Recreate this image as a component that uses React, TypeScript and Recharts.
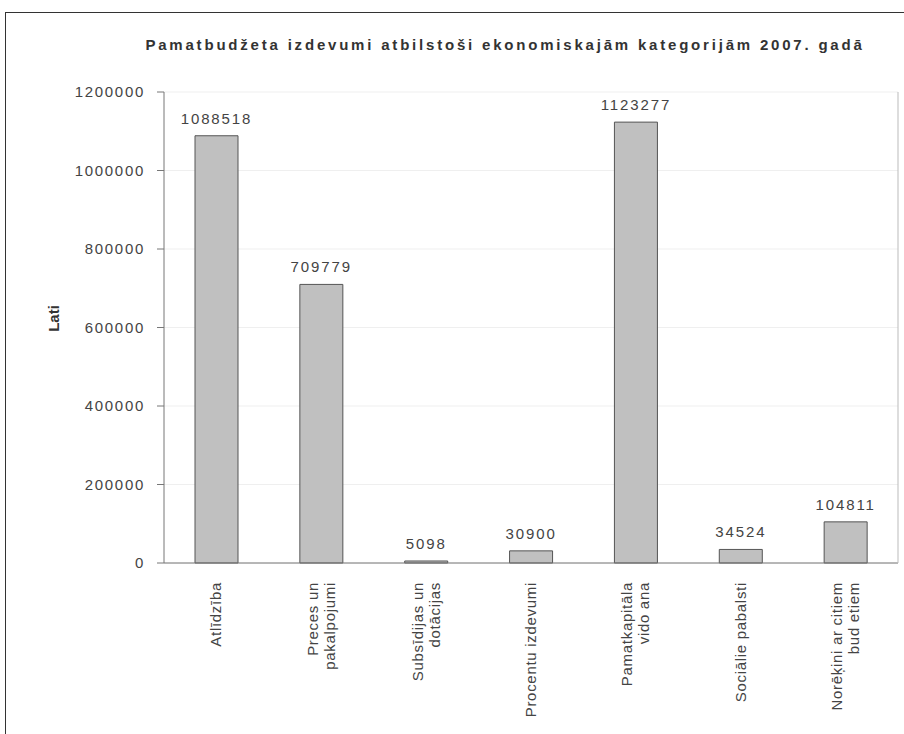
import { Bar, BarChart, CartesianGrid, LabelList, XAxis, YAxis } from "recharts";

const categories = [
  ["Atlīdzība"],
  ["Preces un", "pakalpojumi"],
  ["Subsīdijas un", "dotācijas"],
  ["Procentu izdevumi"],
  ["Pamatkapitāla", "vido ana"],
  ["Sociālie pabalsti"],
  ["Norēķini ar citiem", "bud etiem"],
];
const values = [1088518, 709779, 5098, 30900, 1123277, 34524, 104811];
const yTicks = [0, 200000, 400000, 600000, 800000, 1000000, 1200000];

const data = categories.map((lines, i) => ({ name: lines.join("\n"), value: values[i] }));

const FONT = "'Liberation Sans', Arial, sans-serif";

function CategoryTick(props: any) {
  const { x, y, payload } = props;
  const lines: string[] = String(payload.value).split("\n");
  const step = 17;
  return (
    <g transform={`translate(${x},${y})`}>
      {lines.map((line, i) => {
        const b = (i - (lines.length - 1) / 2) * step + 5;
        return (
          <text
            key={i}
            transform={`translate(${b},11) rotate(-90)`}
            textAnchor="end"
            fontFamily={FONT}
            fontSize={15}
            letterSpacing={0.7}
            fill="#444"
          >
            {line}
          </text>
        );
      })}
    </g>
  );
}

export default function App() {
  return (
    <div
      style={{
        position: "absolute",
        left: 0,
        top: 0,
        width: 904,
        height: 734,
        overflow: "hidden",
        background: "#fff",
      }}
    >
      <div
        style={{
          position: "absolute",
          left: 5,
          top: 12,
          width: 920,
          height: 760,
          border: "1.5px solid #333",
        }}
      />
      <div
        style={{
          position: "absolute",
          left: 0,
          top: 36,
          width: 1010,
          textAlign: "center",
          fontFamily: FONT,
          fontSize: 15,
          fontWeight: "bold",
          letterSpacing: 2.8,
          color: "#333",
        }}
      >
        Pamatbudžeta izdevumi atbilstoši ekonomiskajām kategorijām 2007. gadā
      </div>
      <div
        style={{
          position: "absolute",
          left: 38,
          top: 310,
          transform: "rotate(-90deg)",
          transformOrigin: "center",
          fontFamily: FONT,
          fontSize: 15,
          fontWeight: "bold",
          color: "#333",
          width: 30,
          textAlign: "center",
        }}
      >
        Lati
      </div>
      <div style={{ position: "absolute", left: 0, top: 0 }}>
        <BarChart
          width={904}
          height={734}
          data={data}
          margin={{ top: 92, right: 3, bottom: 21, left: 0 }}
          barSize={43}
        >
          <CartesianGrid horizontal vertical={false} stroke="#efefef" />
          <XAxis
            dataKey="name"
            height={150}
            interval={0}
            tickLine={false}
            axisLine={{ stroke: "#777" }}
            tick={<CategoryTick />}
          />
          <YAxis
            width={164}
            domain={[0, 1200000]}
            ticks={yTicks}
            interval={0}
            tickSize={7}
            tickMargin={12}
            axisLine={{ stroke: "#777" }}
            tickLine={{ stroke: "#777" }}
            tick={{ fontFamily: FONT, fontSize: 15, fill: "#444", letterSpacing: 1.7 }}
          />
          <YAxis
            yAxisId="frame"
            orientation="right"
            width={3}
            domain={[0, 1200000]}
            tick={false}
            tickLine={false}
            axisLine={{ stroke: "#bbb" }}
          />
          <Bar dataKey="value" fill="#c0c0c0" stroke="#555" strokeWidth={1} isAnimationActive={false}>
            <LabelList
              dataKey="value"
              position="top"
              offset={12}
              fontFamily={FONT}
              fontSize={15}
              fill="#444"
              letterSpacing={1.9}
            />
          </Bar>
        </BarChart>
      </div>
    </div>
  );
}
